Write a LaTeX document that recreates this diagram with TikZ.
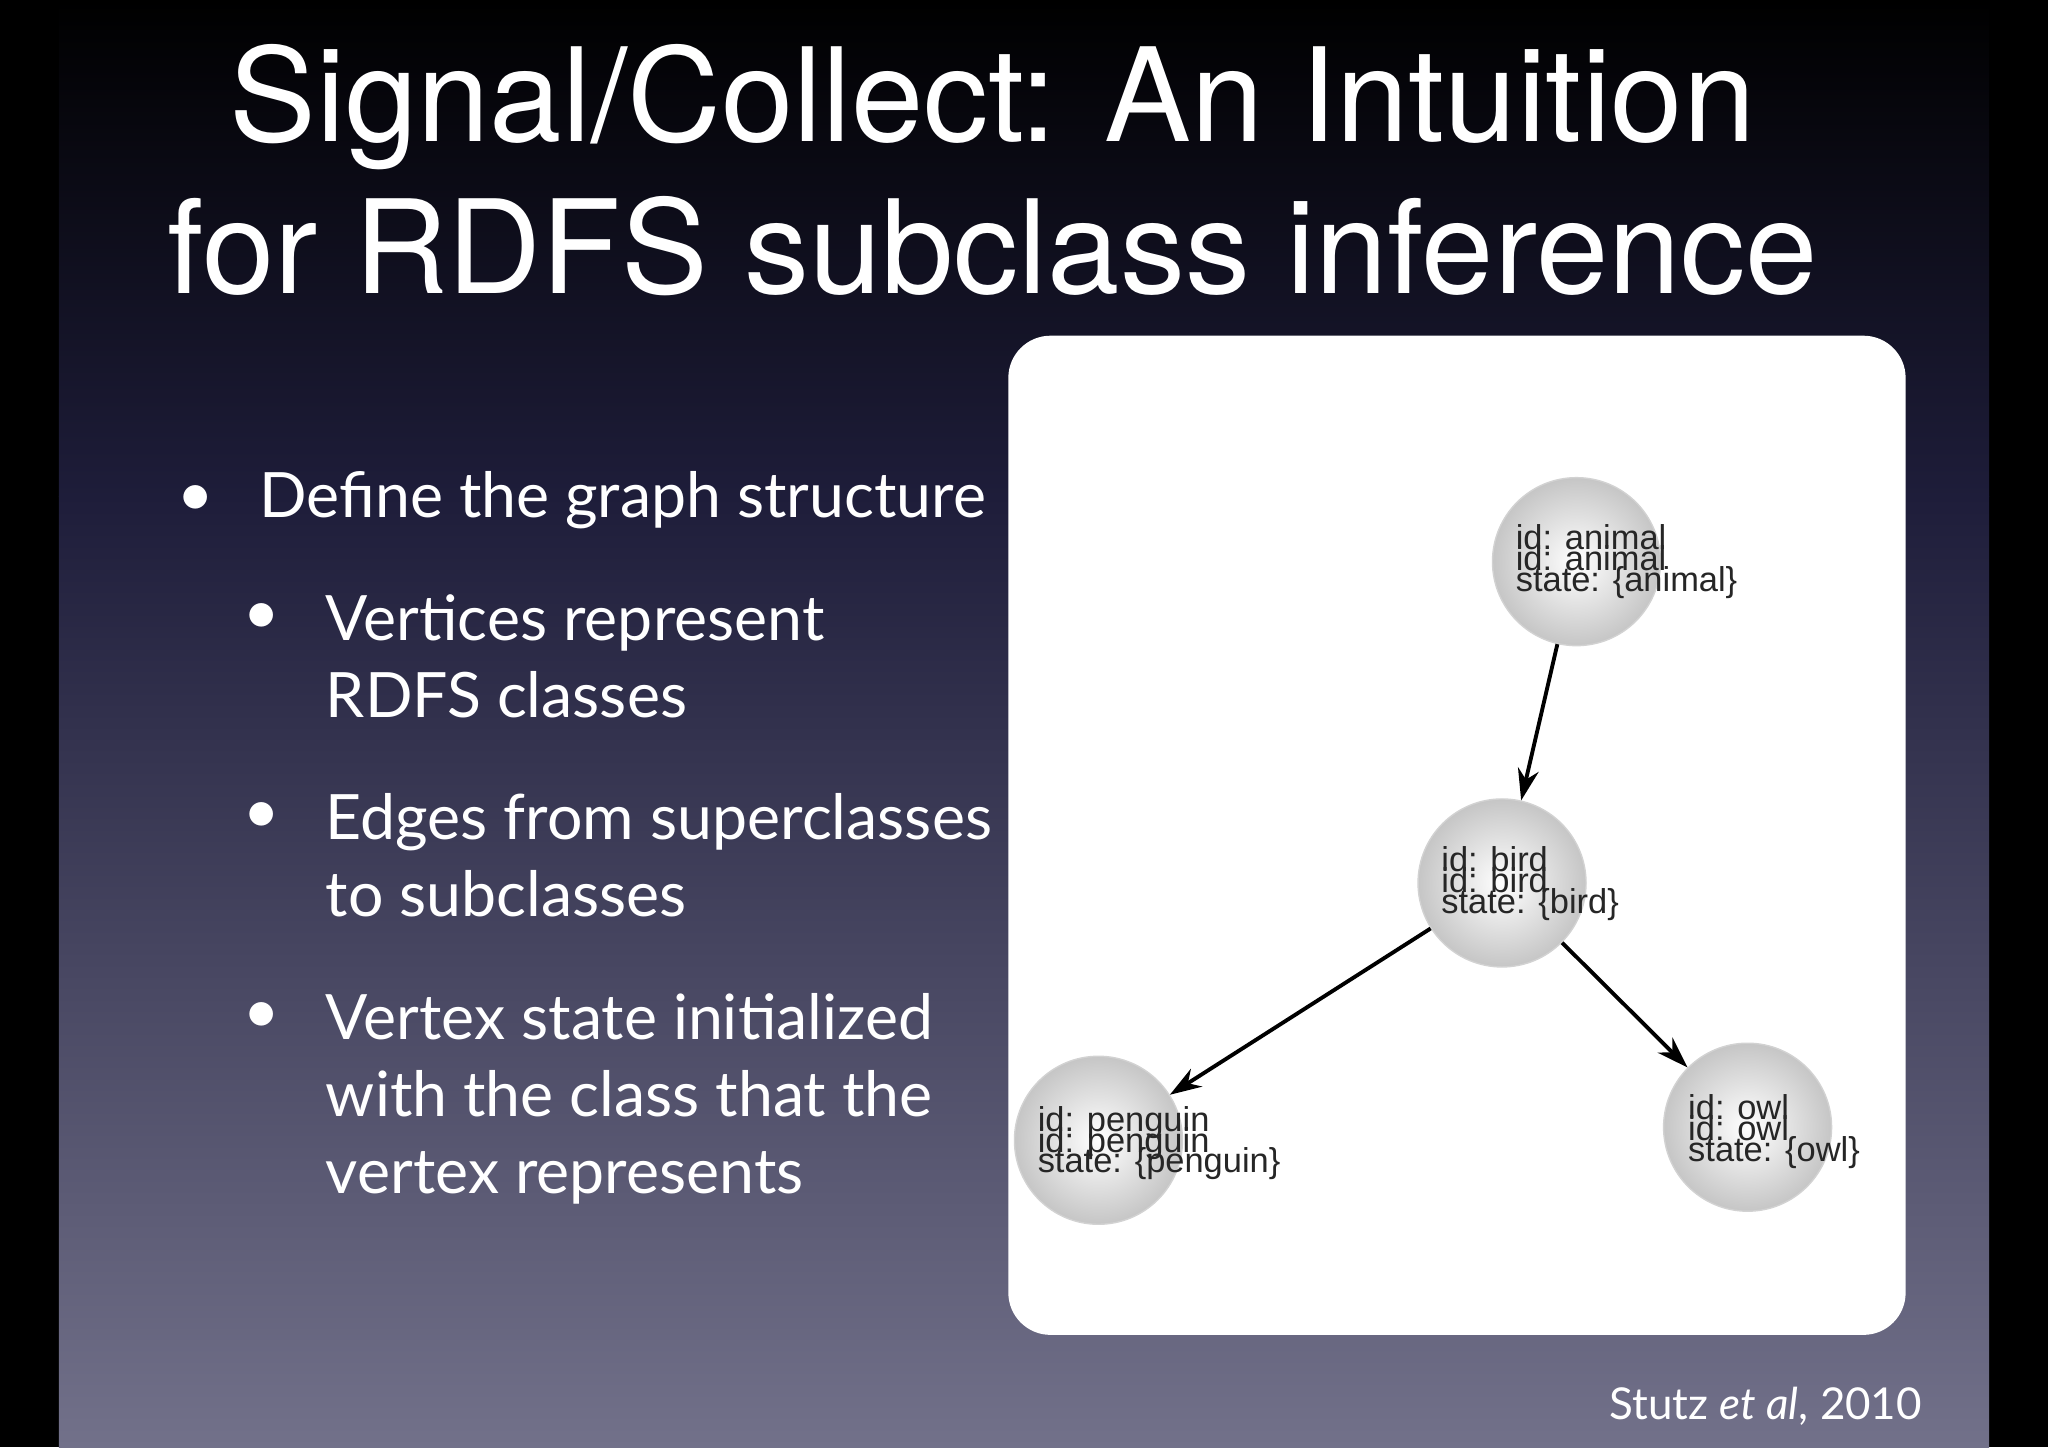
\documentclass[tikz,border=0pt]{standalone}
\usepackage{fontspec}
\setmainfont{Lato}
\newfontfamily\arial{Liberation Sans}
\newfontfamily\heros{TeX Gyre Heros}
\usetikzlibrary{arrows.meta}
\definecolor{bgtop}{HTML}{000000}
\definecolor{bgmid}{HTML}{1E1D3A}
\definecolor{bgbot}{HTML}{72718A}
\begin{document}
\begin{tikzpicture}[x=0.01306cm,y=-0.01306cm,
  vert/.style={circle,minimum size=1.68cm,inner sep=0pt,shading=radial,inner color=white,outer color=gray!45,draw=gray!35},
  lbl/.style={anchor=base west,font=\arial\fontsize{9.8}{10}\selectfont,text=black!85,inner sep=0pt},
  edge/.style={-{Stealth[length=9pt,width=6pt]},line width=1.1pt,black},
  bul/.style={anchor=base west,font=\fontsize{17.8}{22}\selectfont,text=white,inner sep=0pt}]
\useasboundingbox (0,0) rectangle (1568,1108);
\fill[black] (0,0) rectangle (1568,1108);
\shade[top color=bgtop,bottom color=bgmid] (45,0) rectangle (1523,380);
\shade[top color=bgmid,bottom color=bgbot] (45,380) rectangle (1523,1108);
\node[font=\heros\fontsize{37}{44}\selectfont,text=white,anchor=base] (t1) at (760,108) {Signal/Collect: An Intuition};
\node[font=\heros\fontsize{37}{44}\selectfont,text=white,anchor=base] (t2) at (760,225) {for RDFS subclass inference};
\node[bul] (b1) at (198,396) {Define the graph structure};
\node[font=\fontsize{17.5}{22}\selectfont,text=white] (d1) at (150,382) {$\bullet$};
\node[font=\fontsize{17.5}{22}\selectfont,text=white] (d2) at (200,472) {$\bullet$};
\node[font=\fontsize{17.5}{22}\selectfont,text=white] (d3) at (200,625) {$\bullet$};
\node[font=\fontsize{17.5}{22}\selectfont,text=white] (d4) at (200,778) {$\bullet$};
\node[bul] (b2) at (249,490) {Vertices represent};
\node[bul] (b2b) at (249,549) {RDFS classes};
\node[bul] (b3) at (249,643) {Edges from superclasses};
\node[bul] (b3b) at (249,702) {to subclasses};
\node[bul] (b4) at (249,796) {Vertex state initialized};
\node[bul] (b4b) at (249,855) {with the class that the};
\node[bul] (b4c) at (249,914) {vertex represents};
\fill[white,rounded corners=12] (772,257) rectangle (1459,1022);
\node[vert] (an) at (1207,430) {};
\node[vert] (bi) at (1150,676) {};
\node[vert] (pe) at (841,873) {};
\node[vert] (ow) at (1338,863) {};
\draw[edge] (an) -- (bi);
\draw[edge] (bi) -- (pe);
\draw[edge] (bi) -- (ow);
\foreach \n/\x/\y/\s in {la/1160/421/animal,lb/1103/667/bird,lp/794/866/penguin,lo/1292/857/owl}{
  \node[lbl] (\n1) at (\x,\y) {id: \s};
  \node[lbl] (\n2) at (\x,\y+16) {id: \s};
  \node[lbl] (\n3) at (\x,\y+32) {state: \{\s\}};
}
\node[anchor=base east,font=\fontsize{12.5}{15}\selectfont,text=white] (cit) at (1481,1087) {Stutz \textit{et al}, 2010};
\end{tikzpicture}
\end{document}
